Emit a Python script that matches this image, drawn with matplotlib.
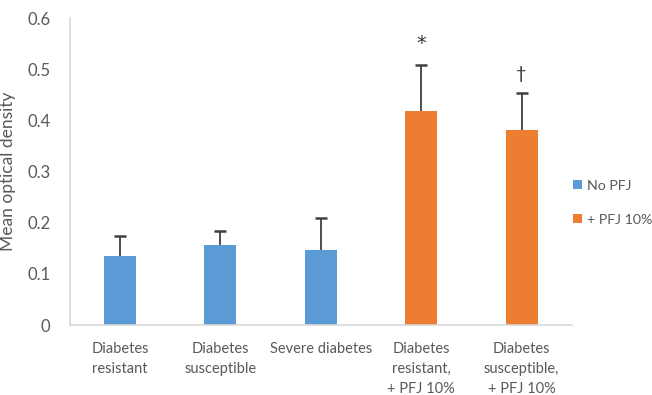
import numpy as np
import matplotlib.pyplot as plt

plt.rcParams['font.family'] = ['Lato', 'DejaVu Sans']

categories = ['Diabetes\nresistant', 'Diabetes\nsusceptible', 'Severe diabetes',
              'Diabetes\nresistant,\n+ PFJ 10%', 'Diabetes\nsusceptible,\n+ PFJ 10%']
no_pfj = [0.135, 0.156, 0.146]
no_pfj_err = [0.039, 0.028, 0.064]
pfj = [0.419, 0.382]
pfj_err = [0.090, 0.072]
marks = ['*', '\u2020']

blue = '#5B9BD5'
orange = '#ED7D31'
grey = '#595959'

fig = plt.figure(figsize=(6.52, 3.95), dpi=100)
ax = fig.add_axes([0.107, 0.177, 0.77, 0.777])

x = np.arange(len(categories))
w = 0.32
err_kw = dict(ecolor='#404040', elinewidth=1.3, capsize=4, capthick=1.8)
b1 = ax.bar(x[:3], no_pfj, w, color=blue, label='No PFJ',
            yerr=[np.zeros(3), no_pfj_err], error_kw=err_kw)
b2 = ax.bar(x[3:], pfj, w, color=orange, label='+ PFJ 10%',
            yerr=[np.zeros(2), pfj_err], error_kw=err_kw)
# upper whiskers only: hide the cap sitting on the bar top
for b in (b1, b2):
    b.errorbar.lines[1][0].set_visible(False)

# significance marks above the treated groups
for xi, v, e, m in zip(x[3:], pfj, pfj_err, marks):
    ax.text(xi, v + e + 0.022, m, ha='center', va='bottom',
            fontsize=14 if m == '*' else 13, color='#333333',
            family='DejaVu Sans' if m == '*' else 'Lato')

ax.set_xlim(-0.5, len(categories) - 0.5)
ax.set_ylim(0, 0.6)
ax.set_yticks(np.arange(0, 0.61, 0.1))
ax.set_yticklabels(['0', '0.1', '0.2', '0.3', '0.4', '0.5', '0.6'])
ax.set_xticks(x)
ax.set_xticklabels(categories, linespacing=1.55)
ax.tick_params(length=0, colors=grey)
ax.tick_params(axis='x', pad=12, labelsize=10.5)
ax.tick_params(axis='y', pad=14, labelsize=12)
for s in ['top', 'right']:
    ax.spines[s].set_visible(False)
for s in ['left', 'bottom']:
    ax.spines[s].set_color('#D9D9D9')
    ax.spines[s].set_linewidth(1.2)
ax.set_ylabel('Mean optical density', color=grey, fontsize=12.5, labelpad=8)

leg = fig.legend(loc='center left', bbox_to_anchor=(0.879, 0.487), frameon=False,
                 fontsize=10.2, handlelength=0.6, handleheight=0.6,
                 handletextpad=0.4, labelspacing=1.55, borderaxespad=0,
                 borderpad=0)
for t in leg.get_texts():
    t.set_color(grey)

fig.savefig('out.png', dpi=100)
